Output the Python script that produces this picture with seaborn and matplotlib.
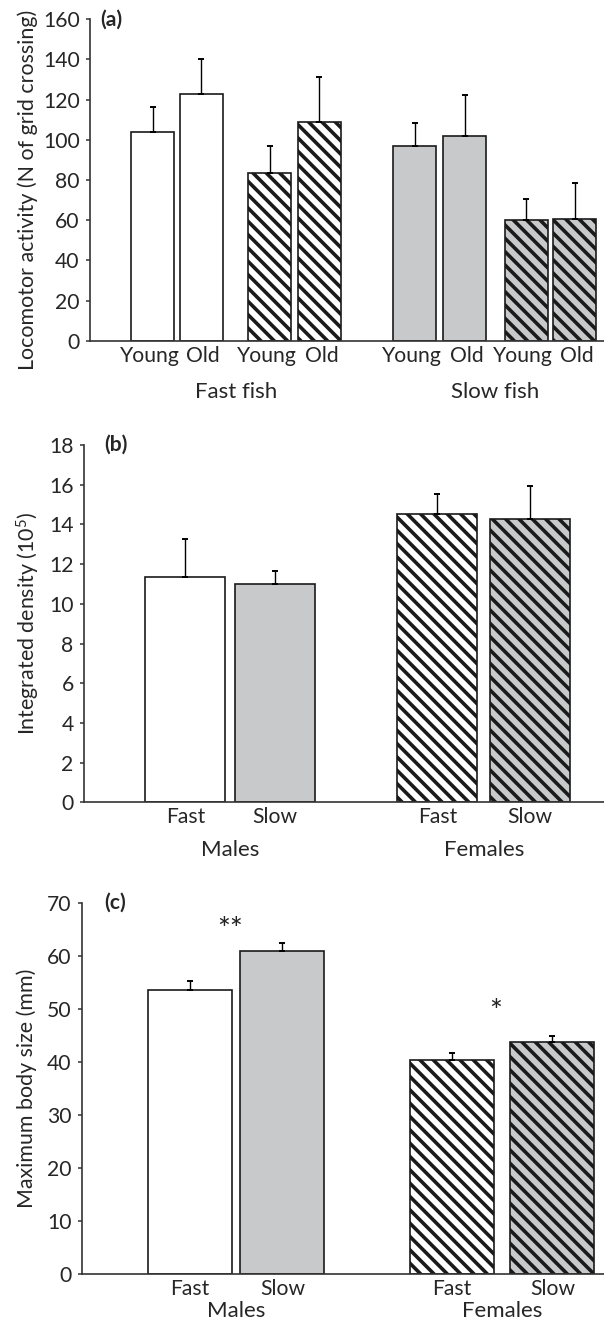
import numpy as np
import matplotlib
matplotlib.use("Agg")
import matplotlib.pyplot as plt
import matplotlib.transforms as mtransforms
import seaborn as sns

# ---------------- data ----------------
a_groups = ["Fast fish", "Slow fish"]
a_ticks = ["Young", "Old", "Young", "Old", "Young", "Old", "Young", "Old"]
a_means = [104.1, 122.8, 83.7, 108.9, 96.9, 102.1, 59.9, 60.4]
a_se = [12.1, 17.6, 13.2, 22.4, 11.3, 20.2, 10.5, 18.3]
a_ylabel = "Locomotor activity (N of grid crossing)"

b_groups = ["Males", "Females"]
b_ticks = ["Fast", "Slow", "Fast", "Slow"]
b_means = [11.35, 10.98, 14.51, 14.29]
b_se = [1.91, 0.69, 1.02, 1.66]
b_ylabel = r"Integrated density (10$^5$)"

c_groups = ["Males", "Females"]
c_ticks = ["Fast", "Slow", "Fast", "Slow"]
c_means = [53.5, 60.96, 40.4, 43.7]
c_se = [1.7, 1.54, 1.2, 1.2]
c_marks = ["**", "*"]
c_mark_y = [64.9, 49.5]
c_ylabel = "Maximum body size (mm)"

# ---------------- styles ----------------
sns.set_style("ticks")
FONT = ["Lato", "DejaVu Sans"]
plt.rcParams["font.family"] = FONT
plt.rcParams["mathtext.fontset"] = "custom"
plt.rcParams["mathtext.rm"] = "Lato"
plt.rcParams["mathtext.default"] = "regular"
plt.rcParams["hatch.linewidth"] = 1.3

EDGE = "#1a1a1a"
GRAY = "#c8c9cb"
AXC = "#333333"
HATCH = "\\" * 5
STY_WHITE = ("white", None)
STY_WHITE_H = ("white", HATCH)
STY_GRAY = (GRAY, None)
STY_GRAY_H = (GRAY, HATCH)

TICK_FS = 7.6
GROUP_FS = 8.0
LABEL_FS = 7.7

fig = plt.figure(figsize=(3.02, 6.61), dpi=200)


def panel(rect, pos, bar_w, xmax, means, se, ticks, styles, groups, group_idx,
          ymax, ystep, ylabel, ylab_xy, letter, letter_x, group_y, tick_shift=None):
    ax = fig.add_axes(rect)
    pos = np.asarray(pos, dtype=float)
    width = bar_w / np.diff(np.sort(pos)).min()
    sns.barplot(x=pos, y=means, native_scale=True, orient="x", width=width,
                color="white", edgecolor=EDGE, linewidth=0.6, errorbar=None,
                saturation=1, ax=ax)
    for p, (fc, h) in zip(ax.patches, styles):
        p.set_facecolor(fc)
        p.set_edgecolor(EDGE)
        if h:
            p.set_hatch(h)
    ax.errorbar(pos, means, yerr=[np.zeros(len(se)), se], fmt="none",
                ecolor="black", elinewidth=0.5, capsize=1.2, capthick=0.7,
                zorder=1)
    ax.set_xlim(0, xmax)
    ax.set_ylim(0, ymax)
    ax.set_yticks(np.arange(0, ymax + ystep / 2, ystep))
    tpos = pos if tick_shift is None else pos + np.asarray(tick_shift)
    ax.set_xticks(tpos)
    ax.set_xticklabels(ticks, fontsize=TICK_FS)
    ax.tick_params(axis="x", length=0, pad=1.8)
    ax.tick_params(axis="y", length=1.5, width=0.55, color=AXC, pad=2.2,
                   labelsize=TICK_FS, direction="out")
    for s in ["top", "right"]:
        ax.spines[s].set_visible(False)
    for s in ["left", "bottom"]:
        ax.spines[s].set_color(AXC)
        ax.spines[s].set_linewidth(0.6)
    ax.set_xlabel("")
    ax.set_ylabel(ylabel, fontsize=LABEL_FS)
    ax.yaxis.set_label_coords(*ylab_xy)
    ax.text(letter_x, 1.0, letter, transform=ax.transAxes, ha="center",
            va="center", fontsize=TICK_FS, fontweight="bold")
    trans = mtransforms.blended_transform_factory(ax.transData, ax.transAxes)
    for g, idx in zip(groups, group_idx):
        gx = pos[idx].mean()
        ax.text(gx, group_y, g, transform=trans, ha="center", va="center",
                fontsize=GROUP_FS)
    return ax, pos


# ---- panel (a) ----
panel([90 / 604, 1 - 340.7 / 1322, 514 / 604, 321.4 / 1322],
      [62.8, 111.3, 179.9, 229.4, 324.7, 374.9, 436.0, 484.9], 43, 514,
      a_means, a_se, a_ticks,
      [STY_WHITE, STY_WHITE, STY_WHITE_H, STY_WHITE_H,
       STY_GRAY, STY_GRAY, STY_GRAY_H, STY_GRAY_H],
      a_groups, [[0, 1, 2, 3], [4, 5, 6, 7]],
      160, 20, a_ylabel, (-0.101, 0.469), "(a)", 0.042, -0.16,
      tick_shift=[-3, 2, -3, 2, -3, 2, -3, 2])

# ---- panel (b) ----
panel([84 / 604, 1 - 802.3 / 1322, 520 / 604, 357.3 / 1322],
      [101.3, 190.9, 353.4, 446.3], 80, 520,
      b_means, b_se, b_ticks,
      [STY_WHITE, STY_GRAY, STY_WHITE_H, STY_GRAY_H],
      b_groups, [[0, 1], [2, 3]],
      18, 2, b_ylabel, (-0.081, 0.5), "(b)", 0.061, -0.1335)

# ---- panel (c) ----
axc, posc = panel([82 / 604, 1 - 1274.3 / 1322, 522 / 604, 371.6 / 1322],
                  [108.1, 200.4, 369.5, 470.4], 84, 522,
                  c_means, c_se, c_ticks,
                  [STY_WHITE, STY_GRAY, STY_WHITE_H, STY_GRAY_H],
                  c_groups, [[0, 1], [2, 3]],
                  70, 10, c_ylabel, (-0.086, 0.5), "(c)", 0.064, -0.10)
for m, my, idx in zip(c_marks, c_mark_y, [[0, 1], [2, 3]]):
    axc.text(posc[idx].mean() - 6, my, m, ha="center", va="center",
             fontsize=11, color="#222222")

fig.savefig("out.png", dpi=200)
